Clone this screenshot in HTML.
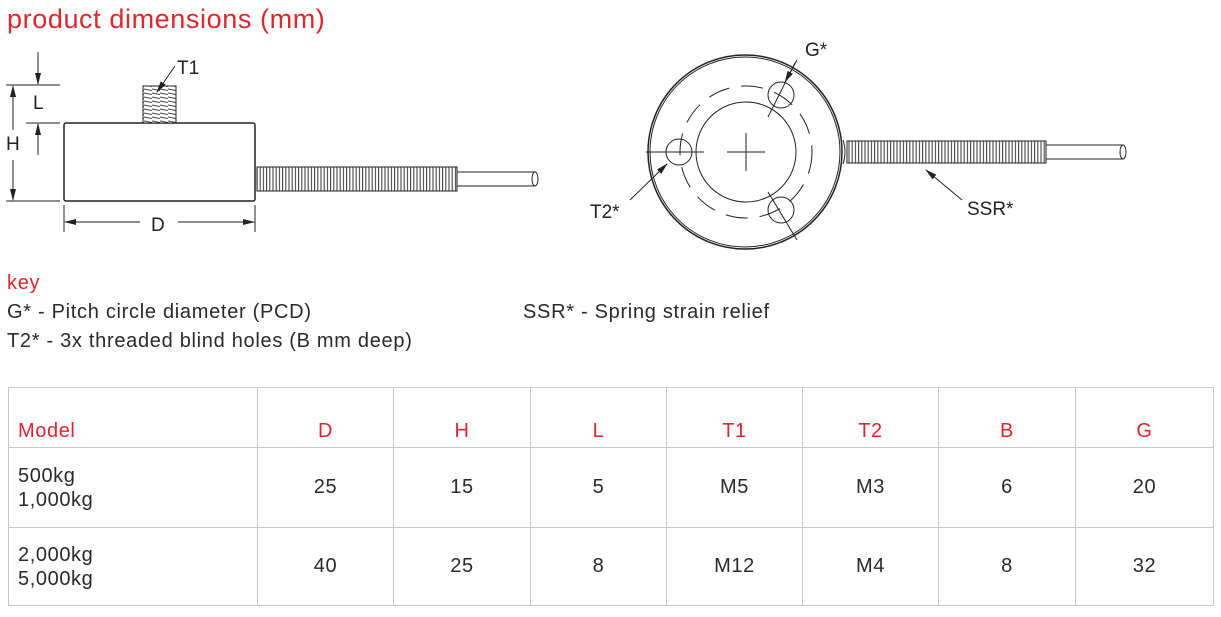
<!DOCTYPE html>
<html><head><meta charset="utf-8"><style>
body{margin:0;width:1221px;height:617px;background:#fff;position:relative;overflow:hidden;font-family:"Liberation Sans",sans-serif;color:#2a2a2a}
.t{position:absolute;white-space:nowrap;letter-spacing:0.7px;font-size:20px}
.red{color:#e0262d}
table{position:absolute;left:8px;top:387px;border-collapse:collapse;font-size:20px;table-layout:fixed;width:1205px;letter-spacing:0.6px}
td{border:1px solid #c8c8c8;text-align:center;padding:0}
td.m{text-align:left;padding-left:9px;line-height:24px}
</style></head><body>
<div class="t red" style="left:7px;top:4px;font-size:27px;letter-spacing:0.6px">product dimensions (mm)</div>
<svg style="position:absolute;left:0;top:0" width="1221" height="270">
<defs>
<pattern id="th" width="3.2" height="40" patternUnits="userSpaceOnUse"><rect width="3.2" height="40" fill="#fff"/><line x1="1" y1="0" x2="1" y2="40" stroke="#444" stroke-width="1.1"/></pattern>
<pattern id="th2" width="8" height="4" patternUnits="userSpaceOnUse"><rect width="8" height="4" fill="#fff"/><line x1="0" y1="1" x2="8" y2="2.5" stroke="#444" stroke-width="1"/></pattern>
<marker id="a" markerWidth="12" markerHeight="8" refX="11" refY="4" orient="auto" markerUnits="userSpaceOnUse"><path d="M0,1 L12,4 L0,7z" fill="#222"/></marker>
</defs>
<g stroke="#222" fill="none" stroke-width="1">
<rect x="64" y="123" width="191" height="78" rx="2" stroke-width="1.5"/>
<rect x="143" y="86" width="33" height="37" fill="url(#th2)"/>
<rect x="257" y="167" width="200" height="24" fill="url(#th)"/>
<line x1="457" y1="172" x2="535" y2="172"/><line x1="457" y1="186" x2="535" y2="186"/>
<ellipse cx="535" cy="179" rx="3" ry="7"/>
<line x1="6" y1="85" x2="60" y2="85"/><line x1="26" y1="123" x2="60" y2="123"/><line x1="6" y1="201" x2="60" y2="201"/>
<line x1="38" y1="52" x2="38" y2="84" marker-end="url(#a)"/>
<line x1="38" y1="155" x2="38" y2="124" marker-end="url(#a)"/>
<line x1="13" y1="130" x2="13" y2="86" marker-end="url(#a)"/>
<line x1="13" y1="160" x2="13" y2="200" marker-end="url(#a)"/>
<line x1="64" y1="205" x2="64" y2="232"/><line x1="255" y1="205" x2="255" y2="232"/>
<line x1="140" y1="222" x2="65" y2="222" marker-end="url(#a)"/>
<line x1="178" y1="222" x2="254" y2="222" marker-end="url(#a)"/>
<line x1="175" y1="66" x2="157" y2="92" marker-end="url(#a)"/>
<circle cx="745" cy="152" r="97" stroke-width="1.5"/>
<circle cx="745" cy="152" r="95"/>
<circle cx="746" cy="152" r="50"/>
<circle cx="746" cy="152" r="66" stroke-dasharray="22 12"/>
<line x1="727" y1="152" x2="765" y2="152"/><line x1="746" y1="133" x2="746" y2="171"/>
<circle cx="679" cy="152" r="13"/><circle cx="781" cy="95" r="13"/><circle cx="781" cy="210" r="13"/>
<line x1="646" y1="152" x2="704" y2="152"/>
<line x1="768" y1="117" x2="795" y2="63"/>
<line x1="768" y1="192" x2="797" y2="240"/>
<line x1="797" y1="60" x2="785" y2="82" marker-end="url(#a)"/>
<line x1="630" y1="200" x2="667" y2="164" marker-end="url(#a)"/>
<path d="M843,140 Q847,152 843,164"/>
<rect x="847" y="141" width="199" height="22" fill="url(#th)"/>
<line x1="1046" y1="145" x2="1123" y2="145"/><line x1="1046" y1="159" x2="1123" y2="159"/>
<ellipse cx="1123" cy="152" rx="3" ry="7"/>
<line x1="962" y1="200" x2="926" y2="170" marker-end="url(#a)"/>
</g>
<g font-family="Liberation Sans,sans-serif" font-size="19" fill="#222">
<text x="177" y="74">T1</text><text x="33" y="109">L</text><text x="6" y="150">H</text><text x="151" y="231">D</text>
<text x="805" y="56">G*</text><text x="590" y="218">T2*</text><text x="967" y="215">SSR*</text>
</g>
</svg>
<div class="t red" style="left:7px;top:272px">key</div>
<div class="t" style="left:7px;top:301px">G* - Pitch circle diameter (PCD)</div>
<div class="t" style="left:7px;top:330px">T2* - 3x threaded blind holes (B mm deep)</div>
<div class="t" style="left:523px;top:301px">SSR* - Spring strain relief</div>
<table>
<colgroup><col style="width:249px"><col style="width:136px"><col style="width:137px"><col style="width:136px"><col style="width:136px"><col style="width:136px"><col style="width:137px"><col style="width:138px"></colgroup>
<tr style="height:60px" class="red"><td class="m" style="vertical-align:bottom;padding-bottom:4px">Model</td><td style="vertical-align:bottom;padding-bottom:4px">D</td><td style="vertical-align:bottom;padding-bottom:4px">H</td><td style="vertical-align:bottom;padding-bottom:4px">L</td><td style="vertical-align:bottom;padding-bottom:4px">T1</td><td style="vertical-align:bottom;padding-bottom:4px">T2</td><td style="vertical-align:bottom;padding-bottom:4px">B</td><td style="vertical-align:bottom;padding-bottom:4px">G</td></tr>
<tr style="height:80px"><td class="m">500kg<br>1,000kg</td><td>25</td><td>15</td><td>5</td><td>M5</td><td>M3</td><td>6</td><td>20</td></tr>
<tr style="height:78px"><td class="m">2,000kg<br>5,000kg</td><td>40</td><td>25</td><td>8</td><td>M12</td><td>M4</td><td>8</td><td>32</td></tr>
</table>
</body></html>
